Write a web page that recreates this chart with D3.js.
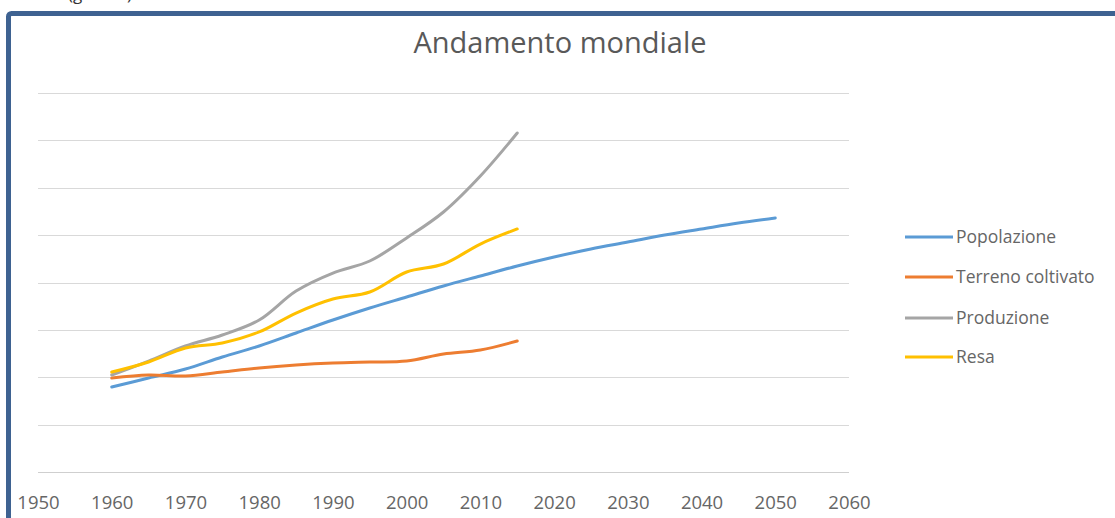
<!DOCTYPE html>
<html>
<head>
<meta charset="utf-8">
<script src="https://cdn.jsdelivr.net/npm/d3@7"></script>
<style>
  html, body { margin: 0; padding: 0; background: #fff; }
  svg { display: block; }
</style>
</head>
<body>
<svg id="chart" width="1115" height="518"></svg>
<script>
// World trends, index values, read every 5 years
const years = [1960, 1965, 1970, 1975, 1980, 1985, 1990, 1995, 2000, 2005, 2010, 2015];
const popYears = [1960, 1965, 1970, 1975, 1980, 1985, 1990, 1995, 2000, 2005, 2010, 2015,
                  2020, 2025, 2030, 2035, 2040, 2045, 2050];

const popolazione = [89.7, 99.2, 108.7, 121.4, 133.0, 146.7, 160.4, 173.1, 184.7, 196.3, 206.9, 217.4,
                     226.9, 235.4, 242.7, 250.1, 256.5, 262.8, 268.1];
const terreno     = [99.2, 102.4, 101.3, 105.5, 109.8, 112.9, 115.0, 116.1, 117.1, 124.5, 128.8, 138.3];
const produzione  = [102.4, 117.1, 133.0, 144.6, 160.4, 191.0, 210.0, 222.7, 247.0, 274.4, 312.4, 357.8];
const resa        = [105.5, 116.1, 130.9, 136.1, 147.8, 167.8, 182.6, 190.0, 211.1, 219.5, 240.6, 256.5];

const seriesNames = ["Popolazione", "Terreno coltivato", "Produzione", "Resa"];
const seriesColors = ["#5B9BD5", "#ED7D31", "#A5A5A5", "#FFC000"];

const xTicks = d3.range(1950, 2061, 10);
const yTicks = d3.range(0, 401, 50);

const titleText = "Andamento mondiale";
const captionText = "(grafico)";

const series = [
  { name: seriesNames[0], color: seriesColors[0], xs: popYears, ys: popolazione },
  { name: seriesNames[1], color: seriesColors[1], xs: years, ys: terreno },
  { name: seriesNames[2], color: seriesColors[2], xs: years, ys: produzione },
  { name: seriesNames[3], color: seriesColors[3], xs: years, ys: resa }
];

const svg = d3.select("#chart");
const font = "'Open Sans', 'Liberation Sans', sans-serif";

// caption running off the top edge
svg.append("text")
  .attr("x", 68).attr("y", 0)
  .attr("font-family", font).attr("font-size", 17)
  .attr("fill", "#333")
  .text(captionText);

// frame
svg.append("rect")
  .attr("x", 8.5).attr("y", 13.5)
  .attr("width", 1130).attr("height", 540)
  .attr("rx", 3)
  .attr("fill", "#fff")
  .attr("stroke", "#3E6291").attr("stroke-width", 5);

const x = d3.scaleLinear().domain([1950, 2060]).range([38, 849]);
const y = d3.scaleLinear().domain([0, 400]).range([472, 93]);

// horizontal gridlines
svg.append("g")
  .selectAll("line")
  .data(yTicks)
  .join("line")
  .attr("x1", x.range()[0]).attr("x2", x.range()[1])
  .attr("y1", d => Math.round(y(d)) + 0.5).attr("y2", d => Math.round(y(d)) + 0.5)
  .attr("stroke", d => d === 0 ? "#cfcfcf" : "#d9d9d9")
  .attr("stroke-width", 1.2);

// x axis labels
const xAxis = svg.append("g")
  .attr("transform", `translate(0,${y(0)})`)
  .call(d3.axisBottom(x).tickValues(xTicks).tickFormat(d3.format("d")).tickSize(0).tickPadding(24));
xAxis.select(".domain").remove();
xAxis.selectAll("text")
  .attr("font-family", font).attr("font-size", 18.5)
  .attr("fill", "#666");

// series lines
const line = d3.line()
  .x(d => x(d[0]))
  .y(d => y(d[1]))
  .curve(d3.curveCatmullRom.alpha(0.5));

svg.append("g")
  .selectAll("path")
  .data(series)
  .join("path")
  .attr("d", s => line(s.xs.map((v, i) => [v, s.ys[i]])))
  .attr("fill", "none")
  .attr("stroke", s => s.color)
  .attr("stroke-width", 3)
  .attr("stroke-linecap", "round")
  .attr("stroke-linejoin", "round");

// title
svg.append("text")
  .attr("x", 560).attr("y", 53)
  .attr("text-anchor", "middle")
  .attr("font-family", font).attr("font-size", 29)
  .attr("fill", "#595959")
  .text(titleText);

// legend
const legendY = [237, 277, 318, 357];
const legend = svg.append("g")
  .selectAll("g")
  .data(series)
  .join("g")
  .attr("transform", (s, i) => `translate(905,${legendY[i]})`);
legend.append("line")
  .attr("x1", 0).attr("x2", 48)
  .attr("stroke", s => s.color).attr("stroke-width", 3);
legend.append("text")
  .attr("x", 51).attr("y", 0).attr("dy", "0.35em")
  .attr("font-family", font).attr("font-size", 17.5)
  .attr("fill", "#666")
  .text(s => s.name);
</script>
</body>
</html>
